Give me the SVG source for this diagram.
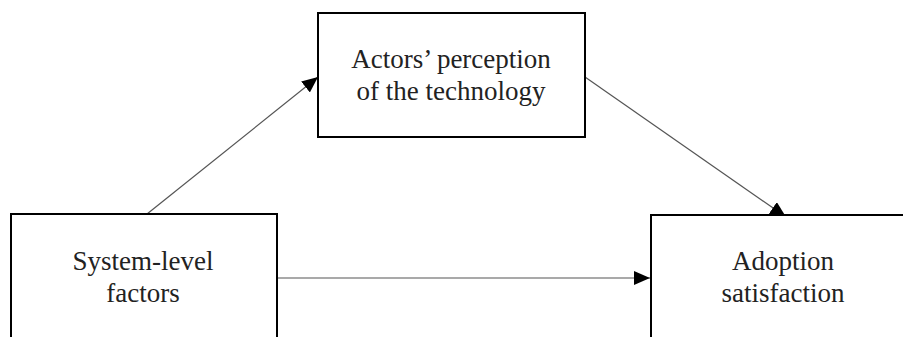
<svg xmlns="http://www.w3.org/2000/svg" width="903" height="337" viewBox="0 0 903 337">
<style>
.box{fill:#fff;stroke:#000;stroke-width:2}
.lbl{font-family:'Liberation Serif','Times New Roman',serif;font-size:27px;fill:#222;text-anchor:middle}
.con{stroke:#555;stroke-width:1.2;fill:none;marker-end:url(#ah)}
</style>
<defs>
<marker id="ah" markerUnits="userSpaceOnUse" markerWidth="16" markerHeight="14" refX="16" refY="7" orient="auto">
<path d="M0,0 L16,7 L0,14 Z" fill="#000"/>
</marker>
</defs>
<g id="connectors">
<line class="con" x1="147" y1="214" x2="318" y2="77"/>
<line class="con" x1="585" y1="77" x2="786" y2="217"/>
<line class="con" x1="277" y1="278" x2="650" y2="278"/>
</g>
<g id="node-perception">
<rect class="box" x="318" y="13" width="267" height="124"/>
<text class="lbl" x="451" y="68">Actors’ perception</text>
<text class="lbl" x="451" y="100">of the technology</text>
</g>
<g id="node-system">
<rect class="box" x="11" y="214" width="266" height="140"/>
<text class="lbl" x="143" y="270">System-level</text>
<text class="lbl" x="143" y="302">factors</text>
</g>
<g id="node-adoption">
<rect class="box" x="651" y="215" width="270" height="140"/>
<text class="lbl" x="783" y="270">Adoption</text>
<text class="lbl" x="783" y="302">satisfaction</text>
</g>
</svg>
